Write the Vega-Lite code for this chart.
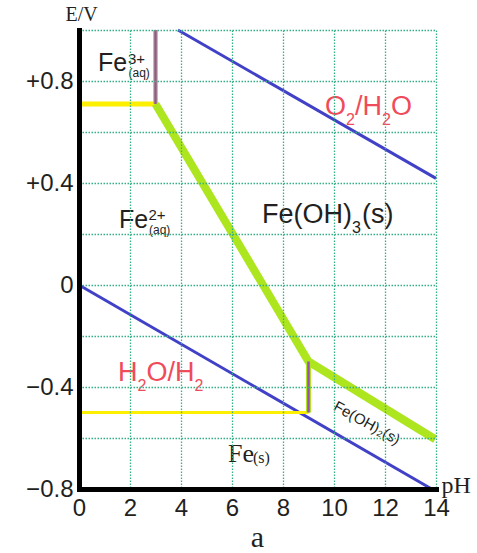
{
  "$schema": "https://vega.github.io/schema/vega-lite/v6.json",
  "width": 357,
  "height": 459,
  "autosize": "none",
  "padding": {"left": 79, "top": 30, "right": 41, "bottom": 64},
  "background": "white",
  "title": {"text": "a", "orient": "bottom", "font": "Liberation Serif", "fontSize": 30, "fontWeight": "normal", "color": "#231f20", "baseline": "alphabetic", "offset": 27},
  "config": {"view": {"stroke": null}},
  "datasets": {
    "lines": [
      {"seg": "O2", "x": 3.88, "E": 1.0},
      {"seg": "O2", "x": 14, "E": 0.418},
      {"seg": "H2", "x": 0, "E": 0.0},
      {"seg": "H2", "x": 13.78, "E": -0.797},
      {"seg": "Y1", "x": 0, "E": 0.71},
      {"seg": "Y1", "x": 3, "E": 0.71},
      {"seg": "Y2", "x": 0, "E": -0.5},
      {"seg": "Y2", "x": 9, "E": -0.5},
      {"seg": "G", "x": 3, "E": 0.71},
      {"seg": "G", "x": 9, "E": -0.3},
      {"seg": "G", "x": 13.97, "E": -0.605},
      {"seg": "P1", "x": 3, "E": 0.71},
      {"seg": "P1", "x": 3, "E": 1.0},
      {"seg": "P2", "x": 9, "E": -0.3},
      {"seg": "P2", "x": 9, "E": -0.5}
    ],
    "labels": [
      {"role": "ion", "text": "Fe", "x": 0.745, "E": 0.839},
      {"role": "ion-charge", "text": "3+", "x": 1.922, "E": 0.867},
      {"role": "ion-state", "text": "(aq)", "x": 1.941, "E": 0.816},
      {"role": "ion", "text": "Fe", "x": 1.569, "E": 0.224},
      {"role": "ion-charge", "text": "2+", "x": 2.725, "E": 0.255},
      {"role": "ion-state", "text": "(aq)", "x": 2.745, "E": 0.2},
      {"role": "couple", "text": "O", "x": 9.647, "E": 0.667},
      {"role": "couple-sub", "text": "2", "x": 10.471, "E": 0.627},
      {"role": "couple", "text": "/H", "x": 10.824, "E": 0.667},
      {"role": "couple-sub", "text": "2", "x": 11.882, "E": 0.627},
      {"role": "couple", "text": "O", "x": 12.235, "E": 0.667},
      {"role": "couple", "text": "H", "x": 1.529, "E": -0.376},
      {"role": "couple-sub", "text": "2", "x": 2.294, "E": -0.416},
      {"role": "couple", "text": "O/H", "x": 2.647, "E": -0.376},
      {"role": "couple-sub", "text": "2", "x": 4.529, "E": -0.416},
      {"role": "solid", "text": "Fe(OH)", "x": 7.176, "E": 0.243},
      {"role": "solid-sub", "text": "3", "x": 10.706, "E": 0.204},
      {"role": "solid", "text": "(s)", "x": 11.098, "E": 0.243},
      {"role": "rotated", "text": "Fe(OH)₂(s)", "x": 11.294, "E": -0.541},
      {"role": "metal", "text": "Fe", "x": 5.843, "E": -0.694},
      {"role": "metal-state", "text": "(s)", "x": 6.824, "E": -0.698}
    ]
  },
  "encoding": {
    "x": {"field": "x", "type": "quantitative", "scale": {"domain": [0, 14], "nice": false, "zero": false},
      "axis": {"values": [0, 2, 4, 6, 8, 10, 12, 14], "grid": true, "gridColor": "#35b183", "gridDash": [1.5, 1.5], "gridWidth": 1.3,
        "ticks": false, "tickSize": 0, "domainColor": "black", "domainWidth": 5, "domainCap": "square",
        "labelFont": "Liberation Sans", "labelFontSize": 24, "labelColor": "#231f20", "labelPadding": 7, "labelFlush": false, "labelOverlap": false, "labelBound": false,
        "title": "pH", "titleFont": "Liberation Serif", "titleFontSize": 24, "titleFontWeight": "normal", "titleColor": "#231f20",
        "titleAlign": "left", "titleAnchor": null, "titleX": 362, "titleY": 3, "titleBaseline": "alphabetic", "zindex": 1}},
    "y": {"field": "E", "type": "quantitative", "scale": {"domain": [-0.8, 1.0], "nice": false, "zero": false},
      "axis": {"values": [-0.8, -0.6, -0.4, -0.2, 0, 0.2, 0.4, 0.6, 0.8, 1.0], "grid": true, "gridColor": "#35b183", "gridDash": [1.5, 1.5], "gridWidth": 1.3,
        "ticks": false, "tickSize": 0, "domainColor": "black", "domainWidth": 5, "domainCap": "square",
        "labelExpr": "abs(datum.value - 0.8) < 0.01 ? '+0.8' : abs(datum.value - 0.4) < 0.01 ? '+0.4' : abs(datum.value) < 0.01 ? '0' : abs(datum.value + 0.4) < 0.01 ? '−0.4' : abs(datum.value + 0.8) < 0.01 ? '−0.8' : ''",
        "labelFont": "Liberation Sans", "labelFontSize": 24, "labelColor": "#231f20", "labelPadding": 6, "labelFlush": false, "labelOverlap": false, "labelBound": false,
        "title": "E/V", "titleFont": "Liberation Serif", "titleFontSize": 20, "titleFontWeight": "normal", "titleColor": "#231f20", "titleAngle": 0,
        "titleAlign": "left", "titleAnchor": null, "titleX": -14, "titleY": -10, "titleBaseline": "alphabetic", "zindex": 1}}
  },
  "layer": [
    {"data": {"name": "lines"}, "transform": [{"filter": "datum.seg == 'O2' || datum.seg == 'H2'"}],
      "mark": {"type": "line", "color": "#4141c8", "strokeWidth": 3}, "encoding": {"detail": {"field": "seg"}}},
    {"data": {"name": "lines"}, "transform": [{"filter": "datum.seg == 'Y1'"}],
      "mark": {"type": "line", "color": "#fcef00", "strokeWidth": 5}, "encoding": {}},
    {"data": {"name": "lines"}, "transform": [{"filter": "datum.seg == 'Y2'"}],
      "mark": {"type": "line", "color": "#fcef00", "strokeWidth": 3}, "encoding": {}},
    {"data": {"name": "lines"}, "transform": [{"filter": "datum.seg == 'G'"}],
      "mark": {"type": "line", "color": "#ade51f", "strokeWidth": 8, "strokeJoin": "miter"}, "encoding": {}},
    {"data": {"name": "lines"}, "transform": [{"filter": "datum.seg == 'P1' || datum.seg == 'P2'"}],
      "mark": {"type": "line", "color": "#ade51f", "strokeWidth": 5}, "encoding": {"detail": {"field": "seg"}}},
    {"data": {"name": "lines"}, "transform": [{"filter": "datum.seg == 'P1' || datum.seg == 'P2'"}],
      "mark": {"type": "line", "color": "#9a4fb4", "strokeWidth": 2.5}, "encoding": {"detail": {"field": "seg"}}},
    {"data": {"name": "labels"}, "transform": [{"filter": "datum.role == 'ion'"}],
      "mark": {"type": "text", "font": "Liberation Sans", "fontSize": 25, "color": "#231f20", "align": "left", "baseline": "alphabetic"}, "encoding": {"text": {"field": "text"}}},
    {"data": {"name": "labels"}, "transform": [{"filter": "datum.role == 'ion-charge'"}],
      "mark": {"type": "text", "font": "Liberation Sans", "fontSize": 15, "color": "#231f20", "align": "left", "baseline": "alphabetic"}, "encoding": {"text": {"field": "text"}}},
    {"data": {"name": "labels"}, "transform": [{"filter": "datum.role == 'ion-state'"}],
      "mark": {"type": "text", "font": "Liberation Sans", "fontSize": 12, "color": "#231f20", "align": "left", "baseline": "alphabetic"}, "encoding": {"text": {"field": "text"}}},
    {"data": {"name": "labels"}, "transform": [{"filter": "datum.role == 'couple'"}],
      "mark": {"type": "text", "font": "Liberation Sans", "fontSize": 27, "color": "#f04b5a", "align": "left", "baseline": "alphabetic"}, "encoding": {"text": {"field": "text"}}},
    {"data": {"name": "labels"}, "transform": [{"filter": "datum.role == 'couple-sub'"}],
      "mark": {"type": "text", "font": "Liberation Sans", "fontSize": 16, "color": "#f04b5a", "align": "left", "baseline": "alphabetic"}, "encoding": {"text": {"field": "text"}}},
    {"data": {"name": "labels"}, "transform": [{"filter": "datum.role == 'solid'"}],
      "mark": {"type": "text", "font": "Liberation Sans", "fontSize": 27, "color": "#231f20", "align": "left", "baseline": "alphabetic"}, "encoding": {"text": {"field": "text"}}},
    {"data": {"name": "labels"}, "transform": [{"filter": "datum.role == 'solid-sub'"}],
      "mark": {"type": "text", "font": "Liberation Sans", "fontSize": 16, "color": "#231f20", "align": "left", "baseline": "alphabetic"}, "encoding": {"text": {"field": "text"}}},
    {"data": {"name": "labels"}, "transform": [{"filter": "datum.role == 'rotated'"}],
      "mark": {"type": "text", "font": "Liberation Sans", "fontSize": 15, "color": "#231f20", "align": "center", "baseline": "middle", "angle": 29}, "encoding": {"text": {"field": "text"}}},
    {"data": {"name": "labels"}, "transform": [{"filter": "datum.role == 'metal'"}],
      "mark": {"type": "text", "font": "Liberation Serif", "fontSize": 26, "color": "#231f20", "align": "left", "baseline": "alphabetic"}, "encoding": {"text": {"field": "text"}}},
    {"data": {"name": "labels"}, "transform": [{"filter": "datum.role == 'metal-state'"}],
      "mark": {"type": "text", "font": "Liberation Serif", "fontSize": 16, "color": "#231f20", "align": "left", "baseline": "alphabetic"}, "encoding": {"text": {"field": "text"}}}
  ]
}
